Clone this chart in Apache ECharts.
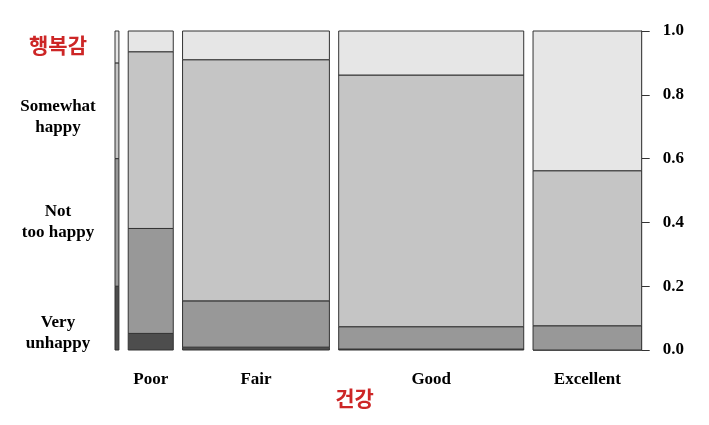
<!DOCTYPE html>
<html>
<head>
<meta charset="utf-8">
<script src="https://cdn.jsdelivr.net/npm/echarts@6/dist/echarts.min.js"></script>
<style>html,body{margin:0;padding:0;background:#fff}#c{width:709px;height:425px}</style>
</head>
<body>
<div id="c"></div>
<script>
// Health categories (x) and their share of observations (column widths)
var healthCats = ['', 'Poor', 'Fair', 'Good', 'Excellent'];
var healthShare = [0.008, 0.092, 0.300, 0.378, 0.222];
// Happiness levels, bottom to top
var happyLevels = ['Very unhappy', 'Not too happy', 'Somewhat happy', 'Very happy'];
// Conditional proportions of each happiness level within each health column
var veryUnhappy  = [0.20, 0.052, 0.009, 0.003, 0.000];
var notTooHappy  = [0.40, 0.329, 0.145, 0.070, 0.076];
var somewhatHappy= [0.30, 0.554, 0.756, 0.789, 0.486];
var veryHappy    = [0.10, 0.065, 0.090, 0.138, 0.438];
// Left axis labels and their positions
var leftLabelText = ['Very\nunhappy', 'Not\ntoo happy', 'Somewhat\nhappy', '행복감'];
var leftLabelPos  = [0.053, 0.401, 0.730, 0.956];
var rightTicks = [0, 0.2, 0.4, 0.6, 0.8, 1.0];
var xTitle = '건강';

var gap = 0.019;
var colors = ['#4D4D4D', '#989898', '#C5C5C5', '#E6E6E6'];
var levelData = [veryUnhappy, notTooHappy, somewhatHappy, veryHappy];

var rects = [];
var centers = [];
var x = 0;
for (var i = 0; i < healthCats.length; i++) {
  var w = healthShare[i];
  var y = 0;
  for (var k = 0; k < levelData.length; k++) {
    var h = levelData[k][i];
    rects.push([x, x + w, y, y + h, k]);
    y += h;
  }
  centers.push(x + w / 2);
  x += w + gap;
}
var xMax = x - gap;

var serif = '"Liberation Serif", "DejaVu Serif", serif';
var chart = echarts.init(document.getElementById('c'));
chart.setOption({
  animation: false,
  backgroundColor: '#fff',
  title: {
    text: xTitle, left: 'center', top: 383,
    textStyle: {fontFamily: '"Noto Sans CJK KR", sans-serif', fontSize: 21, fontWeight: 'bold', color: '#cd2626'}
  },
  grid: {left: 115, right: 67.3, top: 31, bottom: 75},
  xAxis: {
    type: 'value', min: 0, max: xMax,
    axisLine: {show: false}, axisTick: {show: false}, splitLine: {show: false},
    axisLabel: {
      customValues: centers,
      margin: 21,
      fontFamily: serif, fontSize: 17, fontWeight: 'bold', color: '#000',
      formatter: function (v) {
        var best = 0, d = 1e9;
        for (var j = 0; j < centers.length; j++) { var dd = Math.abs(centers[j] - v); if (dd < d) { d = dd; best = j; } }
        return healthCats[best];
      }
    }
  },
  yAxis: [{
    type: 'value', position: 'right', min: 0, max: 1, interval: 0.2,
    splitLine: {show: false},
    axisLine: {show: true, onZero: false, lineStyle: {color: '#333', width: 1}},
    axisTick: {show: true, inside: false, length: 8, lineStyle: {color: '#333'}},
    axisLabel: {
      margin: 21, fontFamily: serif, fontSize: 17, fontWeight: 'bold', color: '#000',
      formatter: function (v) { return v.toFixed(1); }
    }
  }, {
    type: 'value', position: 'left', min: 0, max: 1,
    splitLine: {show: false}, axisLine: {show: false, onZero: false}, axisTick: {show: false},
    axisLabel: {
      customValues: leftLabelPos,
      align: 'center', margin: 57, lineHeight: 21,
      fontFamily: serif, fontSize: 17, fontWeight: 'bold', color: '#000',
      formatter: function (v) {
        var best = 0, d = 1e9;
        for (var j = 0; j < leftLabelPos.length; j++) { var dd = Math.abs(leftLabelPos[j] - v); if (dd < d) { d = dd; best = j; } }
        if (best === leftLabelText.length - 1) return '{r|' + leftLabelText[best] + '}';
        return leftLabelText[best];
      },
      rich: {r: {fontFamily: '"Noto Sans CJK KR", sans-serif', fontSize: 21, fontWeight: 'bold', color: '#cd2626'}}
    }
  }],
  series: [{
    type: 'custom',
    xAxisIndex: 0, yAxisIndex: 0,
    data: rects,
    renderItem: function (params, api) {
      var p0 = api.coord([api.value(0), api.value(3)]);
      var p1 = api.coord([api.value(1), api.value(2)]);
      return {
        type: 'rect',
        shape: {x: p0[0], y: p0[1], width: p1[0] - p0[0], height: p1[1] - p0[1]},
        style: {fill: colors[api.value(4)], stroke: '#333', lineWidth: 1}
      };
    }
  }]
});
</script>
</body>
</html>
